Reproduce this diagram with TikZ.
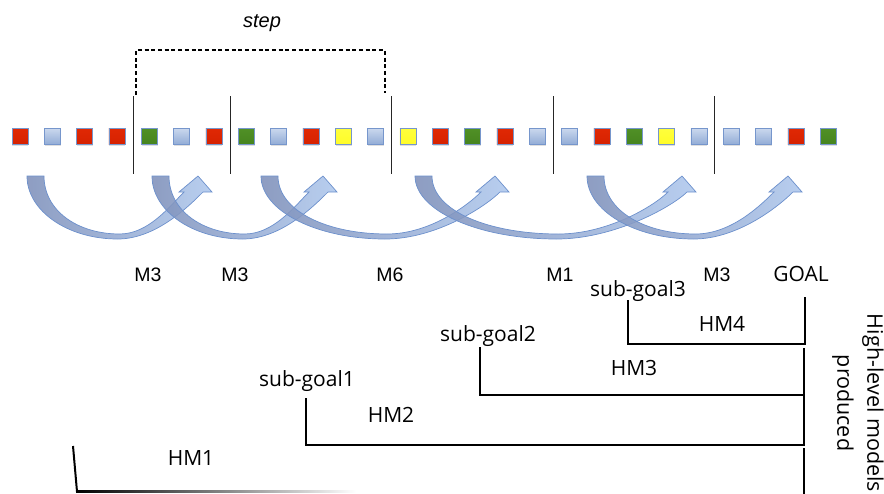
\documentclass[tikz,border=0pt]{standalone}
\usepackage{fontspec}
\setmainfont{Liberation Sans}
\newfontfamily\osans{Open Sans}
\usetikzlibrary{shadows,calc}
\definecolor{sqtopR}{RGB}{224,40,4}
\definecolor{sqbotR}{RGB}{214,34,0}
\definecolor{sqtopG}{RGB}{80,144,38}
\definecolor{sqbotG}{RGB}{70,132,30}
\definecolor{sqtopY}{RGB}{255,255,60}
\definecolor{sqbotY}{RGB}{255,252,40}
\definecolor{sqtopB}{RGB}{202,216,238}
\definecolor{sqbotB}{RGB}{146,172,214}
\definecolor{sqedge}{RGB}{118,150,204}
\definecolor{arrdark}{RGB}{126,144,186}
\definecolor{arrlight}{RGB}{174,199,236}
\definecolor{arredge}{RGB}{108,144,204}
\tikzset{
  sqbox/.style={minimum size=16pt, inner sep=0pt, draw=sqedge, line width=0.8pt,
    drop shadow={shadow xshift=0.3pt, shadow yshift=-1.8pt, opacity=0.25}},
  sepline/.style={line width=1.3pt, draw=black!85},
  dashline/.style={line width=1.3pt, draw=black, dash pattern=on 4pt off 2.7pt},
  brk/.style={line width=2pt, draw=black},
  mlab/.style={font=\fontsize{19.5}{23}\selectfont, anchor=base, inner sep=0pt},
  olab/.style={font=\osans\fontsize{21}{25}\selectfont, anchor=base, inner sep=0pt},
  arrowband/.style={left color=arrdark, right color=arrlight, draw=arredge, line width=0.7pt, fill opacity=0.88},
}
\newcommand{\curvarr}[2]{%
  \pgfmathsetmacro{\arA}{#1}%
  \pgfmathsetmacro{\arT}{#2}%
  \pgfmathsetmacro{\arS}{#2-#1}%
  \pgfmathsetmacro{\arBx}{#1+0.53*\arS}%
  \pgfmathsetmacro{\arBi}{\arBx+2}%
  \pgfmathsetmacro{\arSR}{#2+5}%
  \pgfmathsetmacro{\arSL}{#2-14}%
  \pgfmathsetmacro{\arHR}{#2+14}%
  \pgfmathsetmacro{\arHL}{#2-19}%
  \pgfmathsetmacro{\arIa}{#1+17}%
  \path[arrowband] (\arA,176) .. controls (\arA,211) and ({\arBx-0.55*(\arBx-\arA)},239) .. (\arBx,239)
    .. controls ({\arBx+0.45*(\arSR-\arBx)},239) and ({\arSR-14},206) .. (\arSR,192)
    -- (\arHR,192) -- (\arT,176) -- (\arHL,192) -- (\arSL,192)
    .. controls ({\arSL-14},206) and ({\arBi+0.45*(\arSL-\arBi)},234) .. (\arBi,234)
    .. controls ({\arBi-0.55*(\arBi-\arIa)},234) and (\arIa,211) .. (\arIa,176) -- cycle;
}
\begin{document}
\begin{tikzpicture}[x=1pt,y=-1pt]
\useasboundingbox (0,0) rectangle (884,493);
% squares
\foreach \c [count=\i from 0] in {R,B,R,R,G,B,R,G,B,R,Y,B,Y,R,G,R,B,B,R,G,Y,B,B,B,R,G}
  \node[sqbox, top color=sqtop\c, bottom color=sqbot\c] (sq\i) at ({20+32.33*\i},136.3) {};
% separators
\foreach \x [count=\k] in {133.3,230.3,391.3,553.3,714.8}{
  \coordinate (sept\k) at (\x,96);
  \coordinate (sepb\k) at (\x,174);
  \draw[sepline] (sept\k) -- (sepb\k);
}
% step bracket
\coordinate (dl) at (136,95);
\coordinate (dlt) at (136,50);
\coordinate (drt) at (385,50);
\coordinate (dr) at (385,93);
\draw[dashline] (dl) -- (dlt) -- (drt) -- (dr);
\node[mlab, font=\fontsize{20}{24}\selectfont\itshape] (steplab) at (262,27.5) {step};
% curved arrows
\curvarr{27}{198}
\curvarr{152}{323}
\curvarr{261}{495}
\curvarr{415}{682}
\curvarr{587}{788}
% M labels
\node[mlab] (m1) at (148,281) {M3};
\node[mlab] (m2) at (235,281) {M3};
\node[mlab] (m3) at (390,281) {M6};
\node[mlab] (m4) at (560,281) {M1};
\node[mlab] (m5) at (717,281) {M3};
\node[olab] (goal) at (801,281) {GOAL};
% hierarchy labels
\node[olab] (sg3) at (638,296.5) {sub-goal3};
\node[olab] (hm4) at (722,331.5) {HM4};
\node[olab] (sg2) at (488,341) {sub-goal2};
\node[olab] (hm3) at (634,375) {HM3};
\node[olab] (sg1) at (307,386) {sub-goal1};
\node[olab] (hm2) at (391,422.5) {HM2};
\node[olab] (hm1) at (191,465) {HM1};
\node[font=\osans\fontsize{21.5}{30}\selectfont, align=center, rotate=-90, inner sep=0pt] (hl) at (858,403) {High-level models\\produced};
% hierarchy lines
\coordinate (g1) at (804.5,297);
\coordinate (g2) at (804.5,343.5);
\coordinate (s3b) at (628,343.5);
\coordinate (s3a) at (628,300);
\draw[brk] (g1) -- (g2) -- (s3b) -- (s3a);
\coordinate (v2t) at (803.5,348);
\coordinate (v2m) at (803.5,395);
\coordinate (v2b) at (803.5,445);
\coordinate (s2b) at (480,395);
\coordinate (s2a) at (480,347);
\coordinate (s1b) at (306,445);
\coordinate (s1a) at (306,398);
\draw[brk] (v2t) -- (v2b) -- (s1b) -- (s1a);
\draw[brk] (v2m) -- (s2b) -- (s2a);
\coordinate (v3t) at (803.5,448);
\coordinate (v3b) at (803.5,496);
\draw[brk] (v3t) -- (v3b);
\coordinate (h1a) at (73,446);
\coordinate (h1b) at (77,491.5);
\draw[brk] (h1a) -- (h1b);
\shade[left color=black, right color=white] (76,490.5) rectangle (356,492.5);
\end{tikzpicture}
\end{document}
